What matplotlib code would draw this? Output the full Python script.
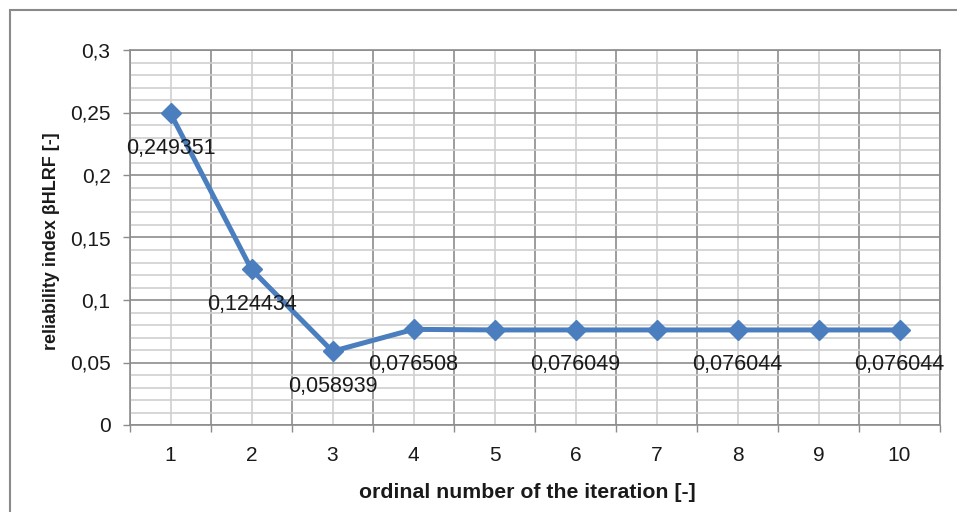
import numpy as np
import matplotlib
matplotlib.use('Agg')
import matplotlib.pyplot as plt
from matplotlib.patches import Rectangle
from matplotlib.ticker import FixedLocator, FuncFormatter

plt.rcParams['font.family'] = ['Liberation Sans', 'DejaVu Sans']

# iteration results
iterations = [1, 2, 3, 4, 5, 6, 7, 8, 9, 10]
beta = [0.249351, 0.124434, 0.058939, 0.076508, 0.07605,
        0.076049, 0.076044, 0.076044, 0.076044, 0.076044]
labelled = [1, 2, 3, 4, 6, 8, 10]  # points that show a data label

line_col = '#4A7EBF'
major_col = '#8C8C8C'
minor_col = '#D0D0D0'

fig = plt.figure(figsize=(9.57, 5.12), dpi=100)
ax = fig.add_axes([130 / 957, 1 - 425 / 512, 810 / 957, 375 / 512])

# outer chart frame (only top/left show in the crop)
fig.patches.append(Rectangle((10 / 957, -0.5), 1.5, 1.5 - 10 / 512,
                             transform=fig.transFigure, fill=False,
                             edgecolor='#8A8A8A', linewidth=1.5))

ax.plot(iterations, beta, color=line_col, linewidth=3.6, marker='D',
        markersize=10, markeredgecolor=line_col, zorder=3)

def comma(v):
    return ('%.6f' % v).replace('.', ',')

for x, y in zip(iterations, beta):
    if x in labelled:
        ax.annotate(comma(y), (x, y), xytext=(0, -25), textcoords='offset points',
                    ha='center', va='center', fontsize=15.5, color='#1a1a1a', zorder=4)

ax.set_xlim(0.5, 10.5)
ax.set_ylim(0, 0.3)

# x axis: ticks at category boundaries, labels at category centres
ax.xaxis.set_major_locator(FixedLocator(np.arange(0.5, 11, 1)))
ax.xaxis.set_minor_locator(FixedLocator(iterations))
ax.xaxis.set_major_formatter(FuncFormatter(lambda v, p: ''))
ax.xaxis.set_minor_formatter(FuncFormatter(lambda v, p: '%d' % round(v)))
ax.tick_params(axis='x', which='major', length=5, color=major_col, width=1)
ax.tick_params(axis='x', which='minor', length=0, pad=15, labelsize=15, labelcolor='#1a1a1a')

ax.yaxis.set_major_locator(FixedLocator(np.arange(0, 0.31, 0.05)))
ax.yaxis.set_minor_locator(FixedLocator(np.arange(0, 0.301, 0.01)))
ax.yaxis.set_major_formatter(FuncFormatter(lambda v, p: ('%g' % round(v, 2)).replace('.', ',')))
ax.tick_params(axis='y', which='major', length=5, color=major_col, width=1, pad=9,
               labelsize=15, labelcolor='#1a1a1a')
ax.tick_params(axis='y', which='minor', length=0)

ax.grid(which='major', color=major_col, linewidth=1.2)
ax.grid(which='minor', color=minor_col, linewidth=1.2)
ax.set_axisbelow(True)
for s in ax.spines.values():
    s.set_color(major_col)
    s.set_linewidth(1.2)

ax.set_xlabel('ordinal number of the iteration [-]', fontsize=15.3, fontweight='bold',
              color='#1a1a1a', va='center')
ax.xaxis.set_label_coords((527 - 130) / 810, -(492 - 425) / 375)
ax.set_ylabel('reliability index βHLRF [-]', fontsize=12.9, fontweight='bold',
              color='#1a1a1a', va='center')
ax.yaxis.set_label_coords(-(130 - 52) / 810, (425 - 241) / 375)

fig.savefig('out.png', dpi=100)
